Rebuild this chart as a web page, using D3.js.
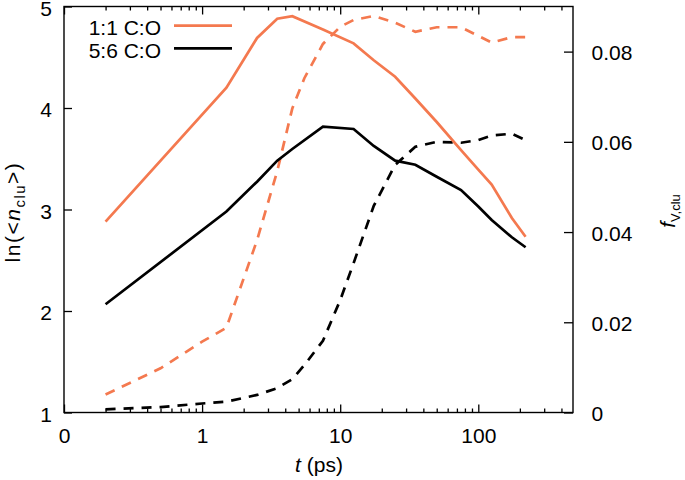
<!DOCTYPE html>
<html><head><meta charset="utf-8">
<script src="https://cdn.jsdelivr.net/npm/d3@7"></script>
<style>
body{margin:0;background:#fff;}
text{font-family:"Liberation Sans",Arial,Helvetica,sans-serif;fill:#000;}
</style></head>
<body><svg id="chart" width="685" height="480"></svg>
<script>
// ---- data ----
const seriesNames = ["1:1 C:O", "5:6 C:O"];
const seriesColors = ["#f4794f", "#000000"];
const timesSolid = [0.2, 1.5, 2.5, 3.5, 4.5, 7.5, 12.5, 17.5, 25, 35, 50, 75, 100, 125, 175, 220];
const lnN_11 = [2.88, 4.20, 4.69, 4.88, 4.905, 4.773, 4.637, 4.471, 4.308, 4.094, 3.862, 3.586, 3.392, 3.245, 2.916, 2.732];
const lnN_56 = [2.066, 2.98, 3.274, 3.481, 3.596, 3.816, 3.793, 3.626, 3.481, 3.441, 3.323, 3.192, 3.03, 2.897, 2.726, 2.628];
const timesDashed = [0.2, 0.5, 1.0, 1.5, 2.5, 3.5, 4.5, 5.5, 7.5, 10, 12.5, 17.5, 25, 35, 50, 75, 100, 125, 175, 220];
const fV_11 = [0.0040, 0.0098, 0.0157, 0.0188, 0.0382, 0.0535, 0.0674, 0.0741, 0.0817, 0.0855, 0.0870, 0.0879, 0.0864, 0.0844, 0.0854, 0.0854, 0.0835, 0.0820, 0.0832, 0.0832];
const fV_56 = [0.0007, 0.0012, 0.0020, 0.0024, 0.0039, 0.0054, 0.0074, 0.0105, 0.0159, 0.0249, 0.0331, 0.0458, 0.0549, 0.0589, 0.0600, 0.0598, 0.0604, 0.0614, 0.0618, 0.0604];
const xTickValues = [0.1, 1, 10, 100];
const xTickLabels = ["0", "1", "10", "100"];
const yLeftTicks = [1, 2, 3, 4, 5];
const yRightTicks = [0, 0.02, 0.04, 0.06, 0.08];
const yRightLabels = ["0", "0.02", "0.04", "0.06", "0.08"];

// ---- layout ----
const L = 64, R = 573, T = 6.5, B = 412.5;
const FS = 21;
const svg = d3.select("#chart");

const x = d3.scaleLog().domain([0.1, 485]).range([L, R]);
const yL = d3.scaleLinear().domain([1, 5]).range([B, T]);
const yR = d3.scaleLinear().domain([0, 0.09]).range([B, T]);

const minorX = [];
for (let d = 0.1; d < 1000; d *= 10) for (let k = 2; k <= 9; k++) { const v = d * k; if (v < 485) minorX.push(v); }

function styleAxis(g) {
  g.select(".domain").remove();
  g.selectAll(".tick line").attr("stroke", "#000").attr("stroke-width", 1.3);
  g.selectAll(".tick text").attr("font-size", FS).attr("font-family", null);
}

// bottom axis
svg.append("g").attr("transform", `translate(0,${B})`)
  .call(d3.axisBottom(x).tickValues(xTickValues).tickSizeInner(-8).tickSizeOuter(0).tickPadding(15.5)
    .tickFormat((d, i) => xTickLabels[i]))
  .call(styleAxis);
svg.append("g").attr("transform", `translate(0,${B})`)
  .call(d3.axisBottom(x).tickValues(minorX).tickSizeInner(-4).tickSizeOuter(0).tickFormat(""))
  .call(styleAxis);
// top axis (mirrored ticks)
svg.append("g").attr("transform", `translate(0,${T})`)
  .call(d3.axisTop(x).tickValues(xTickValues).tickSizeInner(-8).tickSizeOuter(0).tickFormat(""))
  .call(styleAxis);
svg.append("g").attr("transform", `translate(0,${T})`)
  .call(d3.axisTop(x).tickValues(minorX).tickSizeInner(-4).tickSizeOuter(0).tickFormat(""))
  .call(styleAxis);
// left axis
svg.append("g").attr("transform", `translate(${L},0)`)
  .call(d3.axisLeft(yL).tickValues(yLeftTicks).tickSizeInner(-8).tickSizeOuter(0).tickPadding(12).tickFormat(d3.format("d")))
  .call(styleAxis)
  .call(g => g.selectAll(".tick text").attr("dy", "0.42em"));
// right axis
svg.append("g").attr("transform", `translate(${R},0)`)
  .call(d3.axisRight(yR).tickValues(yRightTicks).tickSizeInner(-9).tickSizeOuter(0).tickPadding(18.5)
    .tickFormat((d, i) => yRightLabels[i]))
  .call(styleAxis)
  .call(g => g.selectAll(".tick text").attr("dy", "0.38em"));

// frame
svg.append("rect").attr("x", L).attr("y", T).attr("width", R - L).attr("height", B - T)
  .attr("fill", "none").attr("stroke", "#000").attr("stroke-width", 1.4);

// lines
const plot = svg.append("g");
function drawLine(ts, vs, yScale, color, dashed) {
  const line = d3.line().x((d, i) => x(ts[i])).y(d => yScale(d));
  plot.append("path").datum(vs).attr("d", line)
    .attr("fill", "none").attr("stroke", color).attr("stroke-width", 2.7)
    .attr("stroke-linejoin", "miter").attr("stroke-linecap", "butt")
    .attr("stroke-dasharray", dashed ? "10,8" : null);
}
drawLine(timesDashed, fV_11, yR, seriesColors[0], true);
drawLine(timesDashed, fV_56, yR, seriesColors[1], true);
drawLine(timesSolid, lnN_11, yL, seriesColors[0], false);
drawLine(timesSolid, lnN_56, yL, seriesColors[1], false);

// legend
const legY = [25.7, 48.3];
seriesNames.forEach((name, i) => {
  svg.append("text").attr("x", 161).attr("y", legY[i] + 9.5).attr("text-anchor", "end")
    .attr("font-size", FS).text(name);
  svg.append("line").attr("x1", 174).attr("x2", 232).attr("y1", legY[i]).attr("y2", legY[i])
    .attr("stroke", seriesColors[i]).attr("stroke-width", 2.7);
});

// x title
const xt = svg.append("text").attr("x", 319).attr("y", 472).attr("text-anchor", "middle").attr("font-size", FS);
xt.append("tspan").attr("font-style", "italic").text("t");
xt.append("tspan").text(" (ps)");

// left title
const lt = svg.append("text").attr("transform", "translate(19.5,212) rotate(-90)")
  .attr("text-anchor", "middle").attr("font-size", FS).attr("letter-spacing", 1.5);
lt.append("tspan").text("ln(<");
lt.append("tspan").attr("font-style", "italic").text("n");
lt.append("tspan").attr("font-size", 15).attr("dy", 5).text("clu");
lt.append("tspan").attr("dy", -5).text(">)");

// right title
const rt = svg.append("text").attr("transform", "translate(675,211) rotate(-90)")
  .attr("text-anchor", "middle").attr("font-size", FS);
rt.append("tspan").attr("font-style", "italic").text("f");
rt.append("tspan").attr("font-size", 13).attr("dy", 5).text("V,clu");
</script></body></html>
